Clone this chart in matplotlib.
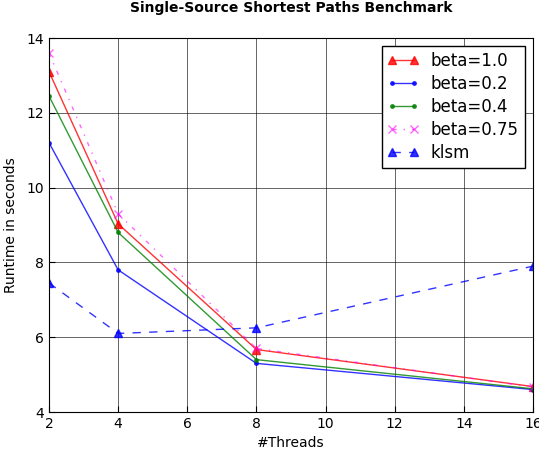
import matplotlib
matplotlib.use("Agg")
import matplotlib.pyplot as plt

threads = [2, 4, 8, 16]
beta_10 = [13.1, 9.03, 5.67, 4.68]
beta_02 = [11.2, 7.8, 5.3, 4.6]
beta_04 = [12.45, 8.8, 5.4, 4.62]
beta_075 = [13.6, 9.3, 5.7, 4.67]
klsm = [7.45, 6.1, 6.25, 7.9]

plt.rcParams['font.family'] = 'DejaVu Sans'

fig = plt.figure(figsize=(5.39, 4.55), dpi=100)
ax = fig.add_axes([49 / 539, 1 - 412 / 455, (533 - 49) / 539, (412 - 38) / 455])

ax.plot(threads, beta_10, color='red', marker='^', markersize=6, linewidth=1,
        alpha=0.8, label='beta=1.0')
ax.plot(threads, beta_02, color='blue', marker='.', markersize=5, linewidth=1,
        alpha=0.8, label='beta=0.2')
ax.plot(threads, beta_04, color='green', marker='.', markersize=5, linewidth=1,
        alpha=0.8, label='beta=0.4')
ax.plot(threads, beta_075, color='magenta', marker='x', markersize=6, linewidth=1,
        linestyle='-.', dashes=(3, 5, 1, 5), alpha=0.6, label='beta=0.75')
ax.plot(threads, klsm, color='blue', marker='^', markersize=6, linewidth=1,
        linestyle='--', dashes=(6, 6), alpha=0.8, label='klsm')

ax.set_xlim(2, 16)
ax.set_ylim(4, 14)
ax.set_xticks([2, 4, 6, 8, 10, 12, 14, 16])
ax.set_yticks([4, 6, 8, 10, 12, 14])
ax.grid(True, color='black', linestyle='-', linewidth=0.6, alpha=0.7)
ax.tick_params(labelsize=10, direction='in', length=4)
ax.set_xlabel('#Threads', fontsize=10)
ax.set_ylabel('Runtime in seconds', fontsize=10, labelpad=6)
ax.set_title('Single-Source Shortest Paths Benchmark', fontsize=10,
             fontweight='bold', pad=18.5)

leg = ax.legend(loc='upper right', fontsize=12, numpoints=2, fancybox=False,
                framealpha=1, edgecolor='black', borderaxespad=0.5,
                labelspacing=0.3, handlelength=1.9, handletextpad=0.7,
                borderpad=0.35)
leg.get_frame().set_linewidth(1)

fig.savefig('out.png', dpi=100)
